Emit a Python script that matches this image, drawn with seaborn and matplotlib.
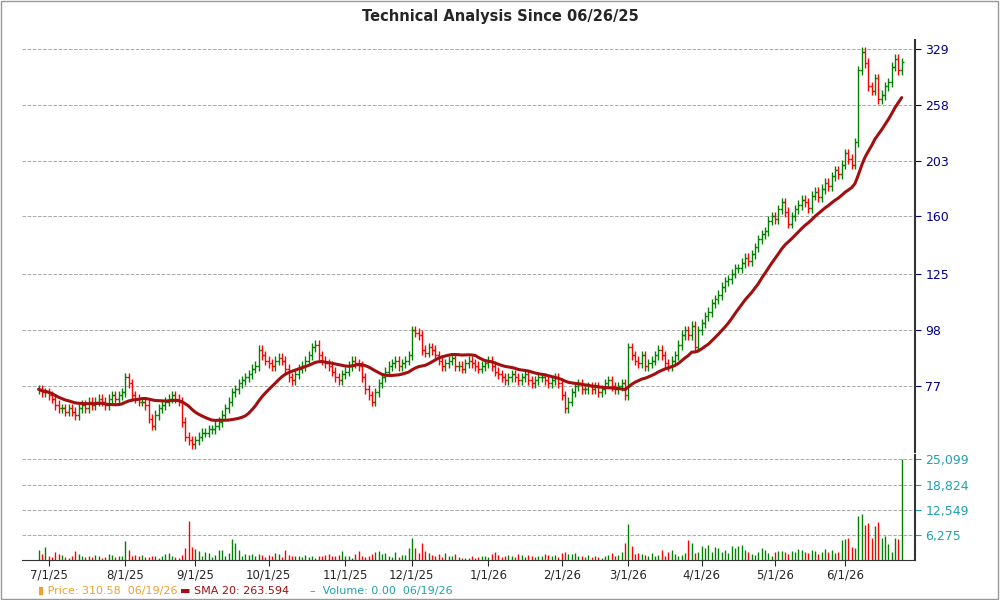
import numpy as np
import pandas as pd
import matplotlib.pyplot as plt
import seaborn as sns

# closes by month, trading-day resolution
months = ['6/25', '7/1/25', '8/1/25', '9/1/25', '10/1/25', '11/1/25', '12/1/25',
          '1/1/26', '2/1/26', '3/1/26', '4/1/26', '5/1/26', '6/1/26']
closes = [
    [76, 75, 75],
    [74, 73, 71, 70, 70, 69, 70, 69, 68, 70, 71, 70, 72, 71, 72, 73, 72, 71, 73, 74, 73, 74, 75],
    [80, 78, 74, 73, 72, 72, 71, 67, 65, 68, 70, 71, 72, 73, 74, 73, 72, 66, 62, 61, 60],
    [61, 62, 63, 63, 64, 64, 65, 66, 68, 70, 72, 75, 76, 78, 79, 80, 81, 83, 84, 90, 88, 86],
    [85, 84, 86, 87, 86, 83, 80, 79, 81, 83, 84, 86, 88, 91, 92, 88, 86, 85, 84, 82, 80, 79, 81],
    [82, 84, 86, 85, 84, 80, 76, 74, 72, 75, 78, 80, 82, 84, 85, 86, 84, 85, 86, 88],
    [98, 97, 96, 90, 89, 91, 90, 88, 86, 84, 85, 86, 87, 84, 84, 83, 85, 86, 85, 84, 83, 84, 85],
    [86, 84, 82, 81, 80, 79, 80, 81, 80, 79, 80, 81, 79, 78, 79, 80, 80, 79, 78, 79, 80, 78],
    [74, 70, 72, 75, 77, 78, 76, 76, 77, 76, 77, 75, 76, 78, 79, 77, 76, 77, 78, 74],
    [91, 88, 86, 85, 88, 84, 85, 86, 88, 90, 88, 85, 84, 86, 88, 92, 96, 98, 96, 100, 91, 98],
    [101, 104, 106, 110, 112, 114, 118, 121, 122, 125, 128, 128, 131, 134, 132, 136, 140, 145, 148, 150, 157, 160],
    [158, 165, 170, 163, 155, 160, 165, 168, 172, 170, 166, 175, 178, 174, 180, 185, 182, 190, 195, 192, 200],
    [210, 205, 200, 220, 300, 325, 310, 280, 275, 290, 265, 270, 280, 285, 305, 315, 300, 310.58],
]
volumes = [
    [2600, 1500, 3200],
    [900, 700, 2000, 1500, 1200, 800, 600, 1000, 2200, 1400, 1100, 800, 900, 700, 1200, 900, 600, 800, 1500, 1300, 700, 900, 1100],
    [4700, 2400, 1000, 1200, 900, 1300, 700, 800, 1100, 1000, 600, 900, 1600, 1800, 900, 700, 600, 1200, 3000, 9800, 3200],
    [2700, 2200, 900, 2000, 1700, 800, 1200, 2500, 2400, 900, 1800, 5200, 4200, 2600, 1100, 1500, 1300, 1600, 1000, 1500, 1200, 800],
    [1200, 900, 1800, 1400, 800, 2500, 1300, 1100, 900, 1000, 700, 1300, 800, 900, 600, 1100, 1000, 1200, 1600, 1100, 900, 1300, 2300],
    [1000, 1100, 600, 1500, 2300, 1100, 700, 900, 1400, 2000, 2200, 1500, 1700, 1000, 800, 2100, 700, 1200, 1300, 3100],
    [5500, 2900, 1700, 4200, 2200, 1700, 1300, 900, 1600, 800, 1700, 1100, 1000, 1400, 800, 600, 500, 400, 1000, 500, 700, 900, 1100],
    [700, 1600, 1900, 1300, 700, 900, 1300, 1000, 700, 1500, 1200, 800, 1300, 1000, 700, 1100, 900, 1500, 1300, 1100, 1200, 800],
    [1700, 2000, 1500, 1600, 1800, 1000, 1100, 800, 1200, 700, 900, 700, 600, 900, 1200, 1800, 1100, 1300, 2000, 4200],
    [9000, 3600, 1600, 1700, 1500, 1200, 900, 1800, 1000, 1300, 2500, 1100, 2100, 2500, 1500, 900, 1300, 1800, 5100, 4300, 1800, 2100],
    [3500, 3100, 3800, 1900, 3200, 2900, 1900, 2400, 1800, 3600, 3000, 3500, 3700, 2400, 2100, 1600, 1300, 1900, 2900, 2600, 1700, 1100],
    [2100, 2300, 2200, 2000, 1500, 2300, 2000, 2800, 2600, 2000, 1700, 2500, 2200, 1600, 1900, 2800, 2100, 2600, 1700, 1900, 5000],
    [5200, 5400, 3300, 3000, 11000, 11400, 8800, 9200, 5500, 8400, 9400, 5500, 6000, 4000, 2000, 5500, 5300, 25099],
]

close = np.concatenate([np.array(c, float) for c in closes])
vol = np.concatenate([np.array(v, float) for v in volumes])
n = len(close)
x = np.arange(n)
starts = np.cumsum([0] + [len(c) for c in closes])[:-1]

opn = np.r_[close[0], close[:-1]]
high = np.maximum(opn, close) * 1.02
low = np.minimum(opn, close) * 0.98
up = close >= opn
col = np.where(up, '#008000', '#ff0000')
df = pd.DataFrame({'x': x, 'sma': pd.Series(close).rolling(20, min_periods=1).mean()})

sns.set_style('white')
fig = plt.figure(figsize=(10, 6), dpi=100)
ax = fig.add_axes([0.022, 1 - 452 / 600, 0.893, 412 / 600])
axv = fig.add_axes([0.022, 1 - 560 / 600, 0.893, 105 / 600], sharex=ax)

ax.set_yscale('log')
ax.vlines(x, low, high, colors=col, lw=1)
ax.hlines(opn, x - 0.55, x, colors=col, lw=1)
ax.hlines(close, x, x + 0.55, colors=col, lw=1)
sns.lineplot(data=df, x='x', y='sma', ax=ax, color='#a01010', lw=2.2, legend=False)
pt = [77, 98, 125, 160, 203, 258, 329]
ax.set_ylim(58, 342)
ax.set_yticks(pt)
ax.set_yticklabels([str(p) for p in pt])
ax.minorticks_off()
ax.set_xlim(-5, n + 3)
ax.yaxis.tick_right()
ax.tick_params(axis='y', colors='#00008b', labelsize=9, length=4)
ax.tick_params(axis='x', bottom=False, labelbottom=False)
ax.grid(axis='y', color='#aaaaaa', ls='--', lw=0.7)
ax.set_ylabel('')
ax.set_xlabel('')

axv.vlines(x, 0, vol, colors=col, lw=1)
vt = [6275, 12549, 18824, 25099]
axv.set_ylim(0, 26200)
axv.set_yticks(vt)
axv.set_yticklabels([f'{v:,}' for v in vt])
axv.yaxis.tick_right()
axv.tick_params(axis='y', colors='#20a0b0', labelsize=9, length=4)
axv.grid(axis='y', color='#aaaaaa', ls='--', lw=0.7)
axv.set_xticks(starts[1:])
axv.set_xticklabels(months[1:], fontsize=8.5)
axv.tick_params(axis='x', length=4, bottom=True, pad=2)

for a in (ax, axv):
    for s in ('left', 'top'):
        a.spines[s].set_visible(False)
    a.spines['right'].set_color('#333333')
    a.spines['right'].set_linewidth(1.5)
ax.spines['bottom'].set_visible(False)
axv.spines['bottom'].set_color('#333333')

fig.text(0.5, 0.985, 'Technical Analysis Since 06/26/25', ha='center', va='top',
         fontsize=10.5, fontweight='bold')
fig.text(0.038, 0.01, '▮ Price: 310.58  06/19/26', color='#f0a030', fontsize=8)
fig.text(0.18, 0.01, '▬ SMA 20: 263.594', color='#a01010', fontsize=8)
fig.text(0.31, 0.01, '–  Volume: 0.00  06/19/26', color='#20a0b0', fontsize=8)
fig.patches.append(plt.Rectangle((0.001, 0.001), 0.997, 0.997, transform=fig.transFigure,
                                 fill=False, ec='#999999', lw=1))
fig.savefig('out.png', dpi=100)
